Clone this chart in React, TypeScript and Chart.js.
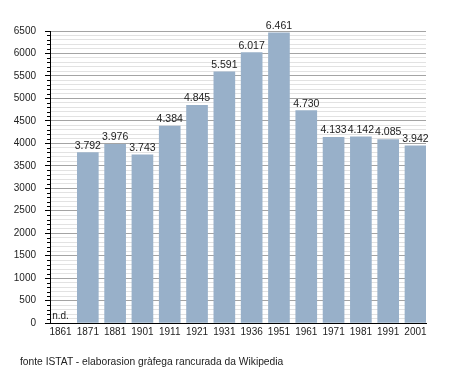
import React, { useEffect, useRef } from "react";
import { Chart, registerables } from "chart.js";

Chart.register(...registerables);

const years = ["1861", "1871", "1881", "1901", "1911", "1921", "1931", "1936", "1951", "1961", "1971", "1981", "1991", "2001"];
const population: (number | null)[] = [null, 3792, 3976, 3743, 4384, 4845, 5591, 6017, 6461, 4730, 4133, 4142, 4085, 3942];
const yMax = 6500;
const yMinorStep = 100;
const yMajorStep = 500;
const missingLabel = "n.d.";
const sourceNote = "fonte ISTAT - elaborasion gràfega rancurada da Wikipedia";

const FONT = "'Liberation Sans', Arial, Helvetica, sans-serif";
const BAR_COLOR = "#98b0c9";

const fmt = (v: number) => String(v).replace(/\B(?=(\d{3})+(?!\d))/g, ".");

const labelsPlugin = {
  id: "valueLabels",
  afterDatasetsDraw(chart: any) {
    const ctx = chart.ctx;
    const xs = chart.scales.x;
    const ys = chart.scales.y;
    ctx.save();
    ctx.fillStyle = "#222";
    ctx.textAlign = "center";
    ctx.textBaseline = "alphabetic";
    population.forEach((v, i) => {
      const x = xs.getPixelForValue(i);
      const y = ys.getPixelForValue(v == null ? 0 : v);
      ctx.font = v == null ? `10px ${FONT}` : `10.5px ${FONT}`;
      ctx.fillText(v == null ? missingLabel : fmt(v), x, y - 4);
    });
    ctx.restore();
  },
  afterDraw(chart: any) {
    const ctx = chart.ctx;
    const ys = chart.scales.y;
    ctx.save();
    ctx.strokeStyle = "#000";
    ctx.lineWidth = 1;
    ctx.beginPath();
    ys.ticks.forEach((t: any) => {
      if (t.value % yMajorStep !== 0) {
        const y = Math.round(ys.getPixelForValue(t.value)) + 0.5;
        ctx.moveTo(ys.right - 3, y);
        ctx.lineTo(ys.right, y);
      }
    });
    ctx.stroke();
    ctx.restore();
  },
};

export default function App() {
  const ref = useRef<HTMLCanvasElement>(null);
  useEffect(() => {
    const chart = new Chart(ref.current as HTMLCanvasElement, {
      type: "bar",
      data: {
        datasets: [
          {
            data: population.map((v, i) => ({ x: i, y: v })) as any,
            backgroundColor: BAR_COLOR,
            borderWidth: 0,
            barThickness: 21,
          },
        ],
      },
      options: {
        responsive: false,
        animation: false,
        events: [],
        layout: { padding: { top: 31, left: 0, right: 29, bottom: 30 } },
        plugins: { legend: { display: false }, tooltip: { enabled: false } },
        scales: {
          x: {
            type: "linear",
            offset: false,
            min: -0.385,
            max: 13.385,
            afterBuildTicks: (scale: any) => {
              scale.ticks = years.map((_, i) => ({ value: i }));
            },
            afterFit: (scale: any) => {
              scale.height = 20;
            },
            grid: { display: true, drawOnChartArea: false, drawTicks: false, offset: false },
            border: { display: true, color: "#000", width: 1 },
            ticks: {
              autoSkip: false,
              maxRotation: 0,
              padding: 3,
              color: "#222",
              font: { family: FONT, size: 10 },
              callback: (v: any) => years[v] ?? "",
            },
          },
          y: {
            min: 0,
            max: yMax,
            afterFit: (scale: any) => {
              scale.width = 50;
            },
            grid: {
              color: (c: any) => (c.tick && c.tick.value % yMajorStep === 0 ? "#a4a4a4" : "#e2e2e2"),
              tickColor: (c: any) => (c.tick && c.tick.value % yMajorStep === 0 ? "#000" : "rgba(0,0,0,0)"),
              tickLength: 5,
            },
            border: { display: true, color: "#000", width: 1 },
            ticks: {
              stepSize: yMinorStep,
              maxTicksLimit: 1000,
              autoSkip: false,
              padding: 9,
              color: "#222",
              font: { family: FONT, size: 10 },
              callback: (v: any) => (v % yMajorStep === 0 ? String(v) : ""),
            },
          },
        },
      },
      plugins: [labelsPlugin],
    });
    return () => chart.destroy();
  }, []);

  return (
    <div style={{ position: "fixed", left: 0, top: 0, width: 455, height: 373, background: "#fff" }}>
      <canvas ref={ref} width={455} height={373} style={{ display: "block" }} />
      <div
        style={{
          position: "absolute",
          left: 20,
          top: 356,
          fontFamily: FONT,
          fontSize: 10.25,
          lineHeight: "12px",
          color: "#222",
          whiteSpace: "nowrap",
        }}
      >
        {sourceNote}
      </div>
    </div>
  );
}
